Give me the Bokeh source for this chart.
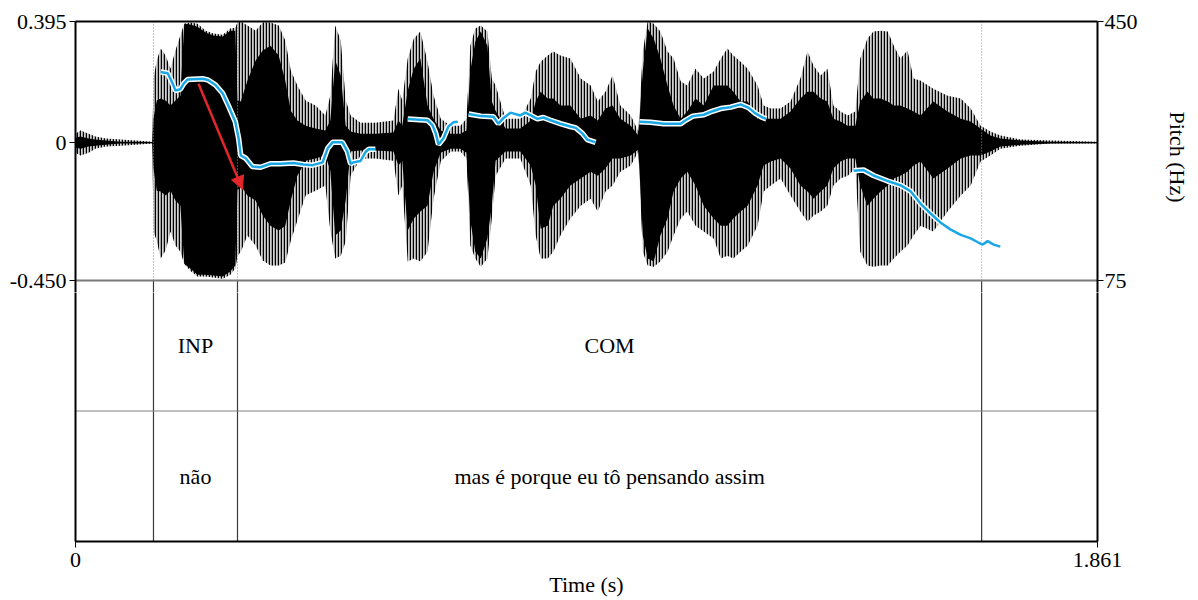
from bokeh.plotting import figure
from bokeh.layouts import column
from bokeh.models import (Range1d, LinearAxis, FixedTicker, CustomJSTickFormatter,
                          Arrow, NormalHead, ColumnDataSource)
from bokeh.core.properties import value
from bokeh.embed import file_html
from bokeh.resources import INLINE

# ---------------------------------------------------------------- data
DURATION = 1.861

# waveform amplitude envelope (s, amplitude): outer peaks and dense core
wave_time = [
    0.000, 0.009, 0.024, 0.036, 0.055, 0.082, 0.109, 0.140,
    0.142, 0.148, 0.155, 0.164, 0.173, 0.182, 0.191, 0.198,
    0.209, 0.222, 0.237, 0.251, 0.268, 0.282, 0.291, 0.295,
    0.301, 0.313, 0.328, 0.341, 0.355, 0.370, 0.382, 0.392,
    0.404, 0.419, 0.437, 0.455, 0.464, 0.473, 0.483, 0.492,
    0.501, 0.519, 0.546, 0.579, 0.588, 0.595, 0.605, 0.616,
    0.628, 0.641, 0.652, 0.665, 0.683, 0.701, 0.712, 0.719,
    0.728, 0.738, 0.750, 0.758, 0.765, 0.783, 0.810, 0.829,
    0.838, 0.847, 0.860, 0.870, 0.883, 0.901, 0.920, 0.938,
    0.951, 0.965, 0.978, 0.992, 1.011, 1.025, 1.033, 1.042,
    1.053, 1.065, 1.078, 1.089, 1.102, 1.114, 1.129, 1.144,
    1.162, 1.175, 1.187, 1.198, 1.211, 1.224, 1.242, 1.253,
    1.266, 1.284, 1.302, 1.320, 1.333, 1.344, 1.357, 1.369,
    1.380, 1.393, 1.406, 1.420, 1.429, 1.442, 1.453, 1.466,
    1.479, 1.490, 1.502, 1.515, 1.526, 1.539, 1.562, 1.588,
    1.612, 1.630, 1.648, 1.666, 1.684, 1.721, 1.775, 1.861,
]
outer_max = [
    0.029, 0.039, 0.029, 0.020, 0.013, 0.010, 0.007, 0.003,
    0.209, 0.268, 0.307, 0.284, 0.241, 0.300, 0.349, 0.388,
    0.392, 0.388, 0.365, 0.356, 0.352, 0.372, 0.375, 0.392,
    0.395, 0.382, 0.365, 0.392, 0.392, 0.382, 0.333, 0.235,
    0.186, 0.137, 0.121, 0.088, 0.153, 0.382, 0.333, 0.137,
    0.088, 0.065, 0.065, 0.072, 0.176, 0.137, 0.274, 0.339,
    0.362, 0.264, 0.153, 0.078, 0.055, 0.055, 0.078, 0.316,
    0.372, 0.382, 0.362, 0.209, 0.186, 0.078, 0.078, 0.144,
    0.232, 0.264, 0.284, 0.297, 0.284, 0.274, 0.209, 0.186,
    0.134, 0.166, 0.219, 0.121, 0.088, 0.036, 0.297, 0.395,
    0.388, 0.362, 0.297, 0.274, 0.199, 0.186, 0.241, 0.209,
    0.232, 0.274, 0.307, 0.284, 0.264, 0.241, 0.186, 0.121,
    0.111, 0.111, 0.134, 0.209, 0.297, 0.251, 0.219, 0.241,
    0.121, 0.101, 0.088, 0.101, 0.274, 0.339, 0.362, 0.365,
    0.362, 0.316, 0.274, 0.300, 0.209, 0.202, 0.176, 0.153,
    0.144, 0.111, 0.055, 0.036, 0.023, 0.010, 0.007, 0.003,
]
outer_min = [
    -0.033, -0.042, -0.033, -0.020, -0.013, -0.010, -0.007, -0.003,
    -0.290, -0.320, -0.378, -0.352, -0.290, -0.336, -0.356, -0.395,
    -0.418, -0.437, -0.437, -0.440, -0.444, -0.431, -0.411, -0.369,
    -0.356, -0.303, -0.336, -0.385, -0.401, -0.401, -0.391, -0.320,
    -0.254, -0.173, -0.157, -0.140, -0.287, -0.378, -0.369, -0.323,
    -0.108, -0.052, -0.052, -0.059, -0.173, -0.140, -0.388, -0.378,
    -0.388, -0.356, -0.183, -0.062, -0.029, -0.029, -0.052, -0.336,
    -0.378, -0.405, -0.378, -0.248, -0.108, -0.052, -0.052, -0.140,
    -0.303, -0.378, -0.378, -0.356, -0.303, -0.248, -0.206, -0.183,
    -0.225, -0.160, -0.140, -0.095, -0.075, -0.029, -0.356, -0.401,
    -0.405, -0.388, -0.356, -0.303, -0.248, -0.225, -0.271, -0.290,
    -0.313, -0.378, -0.369, -0.378, -0.356, -0.336, -0.271, -0.160,
    -0.140, -0.117, -0.173, -0.225, -0.258, -0.238, -0.225, -0.206,
    -0.140, -0.117, -0.108, -0.085, -0.356, -0.401, -0.405, -0.401,
    -0.401, -0.378, -0.356, -0.336, -0.303, -0.271, -0.290, -0.225,
    -0.173, -0.140, -0.062, -0.042, -0.020, -0.010, -0.003, -0.003,
]
core_max = [
    0.016, 0.020, 0.013, 0.010, 0.007, 0.003, 0.003, 0.002,
    0.078, 0.137, 0.144, 0.137, 0.121, 0.137, 0.153, 0.388,
    0.385, 0.378, 0.359, 0.349, 0.346, 0.365, 0.365, 0.137,
    0.134, 0.202, 0.268, 0.300, 0.316, 0.284, 0.202, 0.104,
    0.072, 0.055, 0.046, 0.039, 0.072, 0.268, 0.219, 0.055,
    0.036, 0.029, 0.029, 0.033, 0.072, 0.055, 0.170, 0.241,
    0.274, 0.121, 0.078, 0.039, 0.029, 0.029, 0.039, 0.235,
    0.330, 0.362, 0.316, 0.134, 0.104, 0.046, 0.046, 0.072,
    0.134, 0.166, 0.144, 0.144, 0.121, 0.121, 0.078, 0.088,
    0.072, 0.111, 0.121, 0.078, 0.055, 0.023, 0.235, 0.372,
    0.339, 0.274, 0.186, 0.121, 0.078, 0.101, 0.144, 0.121,
    0.186, 0.186, 0.186, 0.166, 0.134, 0.134, 0.078, 0.078,
    0.078, 0.078, 0.101, 0.144, 0.166, 0.166, 0.144, 0.134,
    0.078, 0.069, 0.055, 0.055, 0.134, 0.166, 0.144, 0.144,
    0.134, 0.121, 0.121, 0.111, 0.101, 0.088, 0.134, 0.101,
    0.078, 0.069, 0.046, 0.023, 0.013, 0.007, 0.003, 0.002,
]
core_min = [
    -0.016, -0.020, -0.013, -0.010, -0.007, -0.003, -0.003, -0.002,
    -0.085, -0.157, -0.160, -0.173, -0.157, -0.189, -0.206, -0.395,
    -0.411, -0.431, -0.431, -0.434, -0.437, -0.421, -0.401, -0.157,
    -0.140, -0.173, -0.189, -0.238, -0.271, -0.287, -0.271, -0.189,
    -0.108, -0.059, -0.052, -0.042, -0.091, -0.303, -0.287, -0.189,
    -0.029, -0.026, -0.026, -0.029, -0.075, -0.059, -0.287, -0.248,
    -0.225, -0.206, -0.095, -0.033, -0.020, -0.020, -0.033, -0.254,
    -0.356, -0.378, -0.313, -0.206, -0.059, -0.029, -0.029, -0.075,
    -0.140, -0.281, -0.271, -0.206, -0.183, -0.140, -0.117, -0.095,
    -0.108, -0.085, -0.052, -0.052, -0.042, -0.023, -0.303, -0.378,
    -0.388, -0.303, -0.248, -0.160, -0.117, -0.095, -0.140, -0.206,
    -0.248, -0.271, -0.271, -0.248, -0.225, -0.206, -0.140, -0.075,
    -0.062, -0.052, -0.085, -0.140, -0.160, -0.183, -0.160, -0.140,
    -0.085, -0.062, -0.052, -0.052, -0.140, -0.206, -0.183, -0.160,
    -0.140, -0.117, -0.108, -0.095, -0.075, -0.062, -0.117, -0.085,
    -0.052, -0.042, -0.042, -0.029, -0.013, -0.007, -0.003, -0.002,
]

# pitch contour (Hz), one list per voiced stretch
pitch_time = [
    [0.155, 0.168, 0.177, 0.182, 0.191, 0.197, 0.204, 0.233, 0.242, 0.255,
     0.268, 0.279, 0.291, 0.297, 0.301, 0.310, 0.322, 0.337, 0.355, 0.373,
     0.397, 0.415, 0.432, 0.450, 0.459, 0.468, 0.486, 0.495, 0.501, 0.506,
     0.519, 0.528, 0.534, 0.546],
    [0.605, 0.641, 0.650, 0.656, 0.661, 0.670, 0.679, 0.688, 0.696],
    [0.716, 0.738, 0.761, 0.770, 0.779, 0.792, 0.810, 0.819, 0.829, 0.841,
     0.852, 0.865, 0.883, 0.901, 0.911, 0.923, 0.932, 0.947],
    [1.027, 1.047, 1.071, 1.102, 1.111, 1.124, 1.144, 1.156, 1.175, 1.193,
     1.211, 1.226, 1.238, 1.251, 1.258],
    [1.417, 1.435, 1.453, 1.479, 1.502, 1.521, 1.539, 1.557, 1.575, 1.593,
     1.612, 1.630, 1.644, 1.652, 1.661, 1.672, 1.684],
]
pitch_hz = [
    [377, 375, 360, 350, 352, 360, 366, 367, 365, 358,
     346, 327, 305, 281, 256, 252, 240, 239, 244, 244,
     245, 243, 242, 246, 266, 275, 275, 262, 244, 246,
     248, 261, 265, 265],
    [309, 307, 300, 288, 272, 281, 298, 304, 305],
    [316, 313, 312, 302, 310, 318, 314, 318, 314, 309,
     311, 307, 302, 298, 296, 288, 279, 275],
    [305, 304, 302, 302, 307, 313, 315, 319, 324, 326,
     330, 325, 317, 311, 309],
    [234, 235, 227, 219, 213, 204, 186, 172, 159, 149,
     141, 136, 130, 127, 132, 127, 124],
]

# text grid: interval edges and labels for the two tiers
tier_edges = [0.0, 0.142, 0.295, 1.650, DURATION]
tier1_labels = ["", "INP", "COM", ""]
tier2_labels = ["", "não", "mas é porque eu tô pensando assim", ""]

time_ticks = [0.0, DURATION]
amp_ticks = [-0.450, 0.0, 0.395]
pitch_ticks = [75, 450]

# ---------------------------------------------------------------- geometry
FONT = "Liberation Serif"
FS = "22px"
FRAME_W = 1022
WAVE_H = 259          # waveform panel height (px)
TIER_H = 130.5        # height of one text-grid tier (px)
OVERLAP = 12          # upper canvas reaches this far into the first tier
RED = "#E3262B"
BLUE = "#1AA7E6"

amp_px = WAVE_H / (amp_ticks[-1] - amp_ticks[0])
hz_px = WAVE_H / (pitch_ticks[1] - pitch_ticks[0])
amp_low = amp_ticks[-1] - (WAVE_H + OVERLAP) / amp_px
hz_low = pitch_ticks[1] - (WAVE_H + OVERLAP) / hz_px

fmt3 = "return tick == 0 ? '0' : tick.toFixed(3);"


def style_axis(ax, standoff=3, tick_out=6):
    ax.axis_line_color = "black"
    ax.axis_line_width = 2
    ax.major_tick_line_color = "black"
    ax.major_tick_line_width = 1
    ax.major_tick_in = 0
    ax.major_tick_out = tick_out
    ax.minor_tick_in = 0
    ax.minor_tick_out = 0
    ax.major_label_text_font = FONT
    ax.major_label_text_font_size = FS
    ax.major_label_text_color = "black"
    ax.major_label_standoff = standoff
    ax.axis_label_text_font = FONT
    ax.axis_label_text_font_size = FS
    ax.axis_label_text_font_style = "normal"
    ax.axis_label_text_color = "black"


def bare_axis(**kw):
    ax = LinearAxis(ticker=FixedTicker(ticks=[]), **kw)
    style_axis(ax, standoff=0, tick_out=0)
    return ax


x_range = Range1d(0, DURATION)
inner = tier_edges[1:-1]

# ---------------------------------------------------------------- waveform + pitch
wf = figure(frame_width=FRAME_W, frame_height=WAVE_H + OVERLAP, x_range=x_range,
            y_range=Range1d(amp_low, amp_ticks[-1]),
            x_axis_location=None, y_axis_location=None,
            min_border_left=75, min_border_right=101,
            min_border_top=21, min_border_bottom=0,
            output_backend="svg", toolbar_location=None)
wf.extra_y_ranges = {"pitch": Range1d(hz_low, pitch_ticks[1])}
wf.outline_line_color = None
wf.grid.visible = False

amp_axis = LinearAxis(ticker=FixedTicker(ticks=amp_ticks),
                      formatter=CustomJSTickFormatter(code=fmt3))
style_axis(amp_axis, standoff=3)
wf.add_layout(amp_axis, "left")

hz_axis = LinearAxis(y_range_name="pitch", ticker=FixedTicker(ticks=pitch_ticks),
                     formatter=CustomJSTickFormatter(code="return tick.toFixed(0);"),
                     axis_label="Pitch (Hz)")
style_axis(hz_axis, standoff=1)
hz_axis.axis_label_standoff = 24
wf.add_layout(hz_axis, "right")
wf.add_layout(bare_axis(), "above")

wave = ColumnDataSource(dict(t=wave_time, omax=outer_max, omin=outer_min,
                             cmax=core_max, cmin=core_min))
wf.varea(x="t", y1="omin", y2="omax", source=wave, fill_color="#8c8c8c",
         fill_alpha=0.4, hatch_pattern="vertical_line", hatch_color="black",
         hatch_scale=3.0, hatch_weight=1.5)
wf.varea(x="t", y1="cmin", y2="cmax", source=wave, fill_color="black")

# interval boundaries: dotted over the waveform, solid into the first tier
wf.segment(x0=inner, y0=[amp_ticks[0]] * len(inner), x1=inner,
           y1=[amp_ticks[-1]] * len(inner),
           line_color="#8c8c8c", line_width=1, line_dash="1 2")
wf.segment(x0=inner, y0=[amp_low] * len(inner), x1=inner,
           y1=[amp_ticks[0]] * len(inner), line_color="#3a3a3a", line_width=1.2)
wf.segment(x0=[0], y0=[amp_ticks[0]], x1=[DURATION], y1=[amp_ticks[0]],
           line_color="#7a7a7a", line_width=2)

wf.multi_line(xs=pitch_time, ys=pitch_hz, line_color="white", line_width=5.5,
              y_range_name="pitch")
wf.multi_line(xs=pitch_time, ys=pitch_hz, line_color=BLUE, line_width=2.5,
              y_range_name="pitch")

wf.add_layout(Arrow(end=NormalHead(size=13, fill_color=RED, line_color=RED),
                    x_start=0.224, y_start=360, x_end=0.304, y_end=207,
                    line_color=RED, line_width=2.5, y_range_name="pitch"))

# ---------------------------------------------------------------- text grid
tg = figure(frame_width=FRAME_W, frame_height=int(2 * TIER_H) - OVERLAP,
            x_range=x_range, y_range=Range1d(0, 2 - OVERLAP / TIER_H),
            x_axis_location=None, y_axis_location=None,
            min_border_left=75, min_border_right=101,
            min_border_top=0, min_border_bottom=59,
            output_backend="svg", toolbar_location=None)
tg.outline_line_color = None
tg.grid.visible = False

time_axis = LinearAxis(ticker=FixedTicker(ticks=time_ticks),
                       formatter=CustomJSTickFormatter(code=fmt3),
                       axis_label="Time (s)")
style_axis(time_axis, standoff=5)
time_axis.axis_label_standoff = 2
tg.add_layout(time_axis, "below")
tg.add_layout(bare_axis(), "left")
tg.add_layout(bare_axis(), "right")

tg.segment(x0=inner, y0=[0] * len(inner), x1=inner, y1=[2] * len(inner),
           line_color="#3a3a3a", line_width=1.2)
tg.segment(x0=[0], y0=[1], x1=[DURATION], y1=[1], line_color="#808080",
           line_width=1.2)

centers = [(a + b) / 2 for a, b in zip(tier_edges[:-1], tier_edges[1:])]
for labels, yc in ((tier1_labels, 1.5), (tier2_labels, 0.5)):
    tg.text(x=centers, y=[yc] * len(centers), text=labels,
            text_font=value(FONT), text_font_size=FS, text_color="black",
            text_align="center", text_baseline="middle")

layout = column(wf, tg, spacing=0)
open("out.html", "w", encoding="utf-8").write(file_html(layout, INLINE, title="Pitch"))
